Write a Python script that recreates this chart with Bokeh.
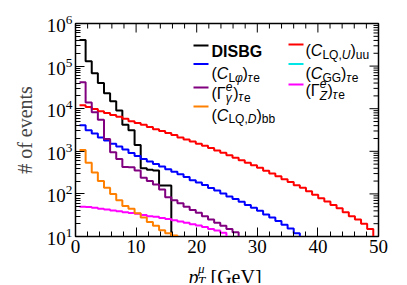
import numpy as np
from bokeh.plotting import figure
from bokeh.layouts import column
from bokeh.models import Label, Range1d, LogTicker, SingleIntervalTicker, BoxAnnotation
from bokeh.embed import file_html
from bokeh.resources import INLINE

# ---------------- data (events per 1 GeV bin) ----------------
bin_start = 0.66
bin_width = 1.01

disbg = [4.1e5, 1.3e5, 6.8e4, 4.0e4, 2.3e4, 1.5e4, 9.1e3, 4.2e3, 3.1e3, 1.4e3,
         400, 370, 355, 158, 158]
c_lqu_uu = [12000, 11000, 9800, 8700, 7900, 7100, 6500, 5800, 5100, 4600,
            4200, 3700, 3300, 3000, 2700, 2400, 2100, 1900, 1700, 1500,
            1350, 1200, 1050, 930, 810, 710, 620, 540, 470, 410,
            350, 300, 260, 220, 190, 160, 140, 115, 95, 79,
            66, 55, 46, 37, 30, 25, 20, 15]
c_lphi_te = [4100, 3100, 2600, 2100, 1800, 1500, 1300, 1100, 910, 780,
             660, 580, 500, 440, 380, 330, 290, 250, 210, 186,
             162, 138, 120, 102, 87, 76, 65, 55, 47, 40,
             33, 28, 23, 19, 15.5, 12]
c_gg_te = []
gam_g_te = [4.2e4, 1.4e4, 8300, 5500, 1950, 950, 660, 430, 420, 355,
            240, 200, 166, 126, 83, 71, 60, 50, 42, 36,
            30, 25, 21, 18, 15, 12.6]
gam_z_te = [50, 49, 47, 45, 43, 41, 39, 37, 35.5, 34,
            32, 30, 29, 27, 25.7, 24, 22.4, 21, 19.5, 18.2,
            16.6, 15.1, 13.8, 12.3]
c_lqd_bb = [1070, 540, 320, 200, 140, 100, 71, 52, 45, 35,
            28, 22, 18, 14, 12, 10.5]

series = [
    (disbg, "#000000"),
    (c_lqu_uu, "#ff0000"),
    (c_lphi_te, "#0000ff"),
    (c_gg_te, "#00e5e5"),
    (gam_g_te, "#800080"),
    (gam_z_te, "#ff00ff"),
    (c_lqd_bb, "#ff8000"),
]

x_major = [0, 10, 20, 30, 40, 50]
x_minor_step = 2
y_decades = [1, 2, 3, 4, 5, 6]
y_min, y_max = 10, 1e6
x_min, x_max = 0, 50

# ---------------- figure ----------------
W, H = 405, 258          # main plot
H2 = 25                  # strip below it holding the x-axis title
FL, FR, FT, FB = 75, 378, 23, 236   # frame edges in page pixels
p = figure(width=W, height=H, y_axis_type="log",
           x_range=Range1d(x_min, x_max), y_range=Range1d(y_min, y_max),
           output_backend="svg", toolbar_location=None,
           min_border_left=FL, min_border_right=W - FR, min_border_top=FT,
           min_border_bottom=H - FB)
p.xgrid.visible = False
p.ygrid.visible = False
p.outline_line_color = "black"
p.outline_line_width = 1.5
p.background_fill_color = "white"
p.border_fill_color = "white"

SERIF = "Liberation Serif"
SANS = "Liberation Sans"

def style_axis(ax):
    ax.axis_line_color = "black"
    ax.major_tick_line_color = "black"
    ax.minor_tick_line_color = "black"
    ax.major_tick_in = 9
    ax.major_tick_out = 0
    ax.minor_tick_in = 5
    ax.minor_tick_out = 0
    ax.major_label_text_font = SERIF
    ax.major_label_text_font_size = "19px"
    ax.major_label_text_color = "black"
    ax.major_label_standoff = 3

xa = p.xaxis[0]
xa.ticker = SingleIntervalTicker(interval=10, num_minor_ticks=5)
style_axis(xa)
ya = p.yaxis[0]
ya.ticker = LogTicker(num_minor_ticks=10)
style_axis(ya)
ya.axis_label = "# of events"
ya.axis_label_text_font = SERIF
ya.axis_label_text_font_style = "normal"
ya.axis_label_text_font_size = "20px"
ya.axis_label_standoff = 8

# mirrored ticks on top and right edges
PX_PER_DEC = (FB - FT) / 5.0
PX_PER_GEV = (FR - FL) / 50.0
tx0, tx1, ty0, ty1 = [], [], [], []
for xv in np.arange(x_min, x_max + 0.01, x_minor_step):
    ln = 9 if xv in x_major else 5
    tx0.append(xv); tx1.append(xv)
    ty0.append(y_max); ty1.append(y_max * 10 ** (-ln / PX_PER_DEC))
for d in y_decades:
    for m in range(1, 10):
        yv = m * 10.0 ** (d - 1) if d > 1 else None
        if yv is None or yv < y_min:
            continue
        ln = 9 if m == 1 else 5
        tx0.append(x_max); tx1.append(x_max - ln / PX_PER_GEV)
        ty0.append(yv); ty1.append(yv)
tx0.append(x_max); tx1.append(x_max - 9 / PX_PER_GEV); ty0.append(y_max); ty1.append(y_max)
p.segment(tx0, ty0, tx1, ty1, line_color="black", line_width=1)

# ---------------- histograms ----------------
for vals, col in series:
    n = len(vals)
    if n == 0:
        continue
    edges = bin_start + bin_width * np.arange(n + 1)
    xs, ys = [], []
    for i, v in enumerate(vals):
        xs += [edges[i], edges[i + 1]]
        ys += [v, v]
    xs.append(edges[n]); ys.append(1.0)
    p.line(xs, ys, line_color=col, line_width=2)

# ---------------- strip for the x-axis title ----------------
p2 = figure(width=W, height=H2, x_axis_type=None, y_axis_type=None,
            x_range=Range1d(0, 1), y_range=Range1d(0, 1),
            output_backend="svg", toolbar_location=None,
            min_border=0, min_border_left=0, min_border_right=0,
            min_border_top=0, min_border_bottom=0)
p2.outline_line_color = None
p2.background_fill_color = "white"
p2.border_fill_color = "white"

# ---------------- rich-text helpers ----------------
# screen units: measured from the frame's bottom-left corner
# (the strip's frame is aligned with the main frame horizontally)
def conv(fig, px, py):
    if fig is p:
        return px - FL, FB - py
    return px - FL, (H + H2) - py

EM = {'(': .333, ')': .333, 'C': .722, 'L': .556, 'Q': .778, ',': .278, 'U': .722,
      'D': .722, 'G': .778, 'u': .556, 'b': .556, 'e': .556, 'τ': .45, 'φ': .62,
      'Γ': .556, 'γ': .5, 'Z': .611, 'I': .278, 'S': .667, 'B': .722,
      'p': .5, 'μ': .55, 'T': .556, '[': .333, ']': .333, 'V': .722, ' ': .25}

def tw(s, size):
    return sum(EM.get(c, .55) for c in s) * size

def place(px, pyb, pieces, font=SANS, fig=None):
    fig = fig or p
    x = px
    for txt, size, style, dy, adv in pieces:
        lx, ly = conv(fig, x, pyb + dy)
        fig.add_layout(Label(x=lx, y=ly, x_units="screen", y_units="screen",
                             text=txt, text_font=font, text_font_size=f"{size}px",
                             text_font_style=style, text_baseline="alphabetic",
                             text_align="left", text_color="black"))
        if adv is True:
            x += tw(txt, size)
        elif adv:
            x += adv

M, S = 16, 12
SUB, SUP = 4, -7

lines_spec = [
    (193, 45, "#000000"), (288, 44, "#ff0000"),
    (193, 63.5, "#0000ff"), (288, 63.5, "#00e5e5"),
    (193, 87, "#800080"), (288, 84, "#ff00ff"),
    (193, 106, "#ff8000"),
]
for x0, y, col in lines_spec:
    l, b = conv(p, x0, y + 1)
    r, t = conv(p, x0 + 15, y - 1)
    p.add_layout(BoxAnnotation(left=l, right=r, bottom=b, top=t,
                               left_units="screen", right_units="screen",
                               bottom_units="screen", top_units="screen",
                               fill_color=col, fill_alpha=1.0, line_alpha=0))

place(211, 50.5, [("DISBG", M, "bold", 0, True)])
place(305, 50, [("(", M, "normal", 0, True), ("C", M, "italic", 0, True),
                ("LQ,", S, "normal", SUB, True), ("U", S, "italic", SUB, True),
                (")", M, "normal", 0, True), ("uu", S, "normal", SUB, True)])
place(211, 73, [("(", M, "normal", 0, True), ("C", M, "italic", 0, True),
                ("L", S, "normal", SUB, True), ("φ", S, "italic", SUB, True),
                (")", M, "normal", 0, True), ("τ", S, "italic", SUB, True),
                ("e", S, "normal", SUB, True)])
place(305, 73, [("(", M, "normal", 0, True), ("C", M, "italic", 0, True),
                ("GG", S, "normal", SUB, True),
                (")", M, "normal", 0, True), ("τ", S, "italic", SUB, True),
                ("e", S, "normal", SUB, True)])
place(211, 92.5, [("(", M, "normal", 0, True), ("Γ", M, "normal", 0, True),
                  ("e", S, "italic", SUP, False), ("γ", S, "italic", SUB + 1, 7.5),
                  (")", M, "normal", 0, True), ("τ", S, "italic", SUB, True),
                  ("e", S, "normal", SUB, True)])
place(305, 90, [("(", M, "normal", 0, True), ("Γ", M, "normal", 0, True),
                ("e", S, "italic", SUP, False), ("Z", S, "italic", SUB + 1, 7.8),
                (")", M, "normal", 0, True), ("τ", S, "italic", SUB, True),
                ("e", S, "normal", SUB, True)])
place(211, 114.5, [("(", M, "normal", 0, True), ("C", M, "italic", 0, True),
                   ("LQ,", S, "normal", SUB, True), ("D", S, "italic", SUB, True),
                   (")", M, "normal", 0, True), ("bb", S, "normal", SUB, True)])

# x axis title: p_T^mu [GeV]
place(188, 276, [("p", 20, "italic", 0, 9.5), ("μ", 13, "italic", -8, False),
                 ("T", 13, "italic", 4, 12.5), ("[GeV]", 20, "normal", 0, True)],
      font=SERIF, fig=p2)

layout = column(p, p2, spacing=0)
open("out.html", "w").write(file_html(layout, INLINE))
